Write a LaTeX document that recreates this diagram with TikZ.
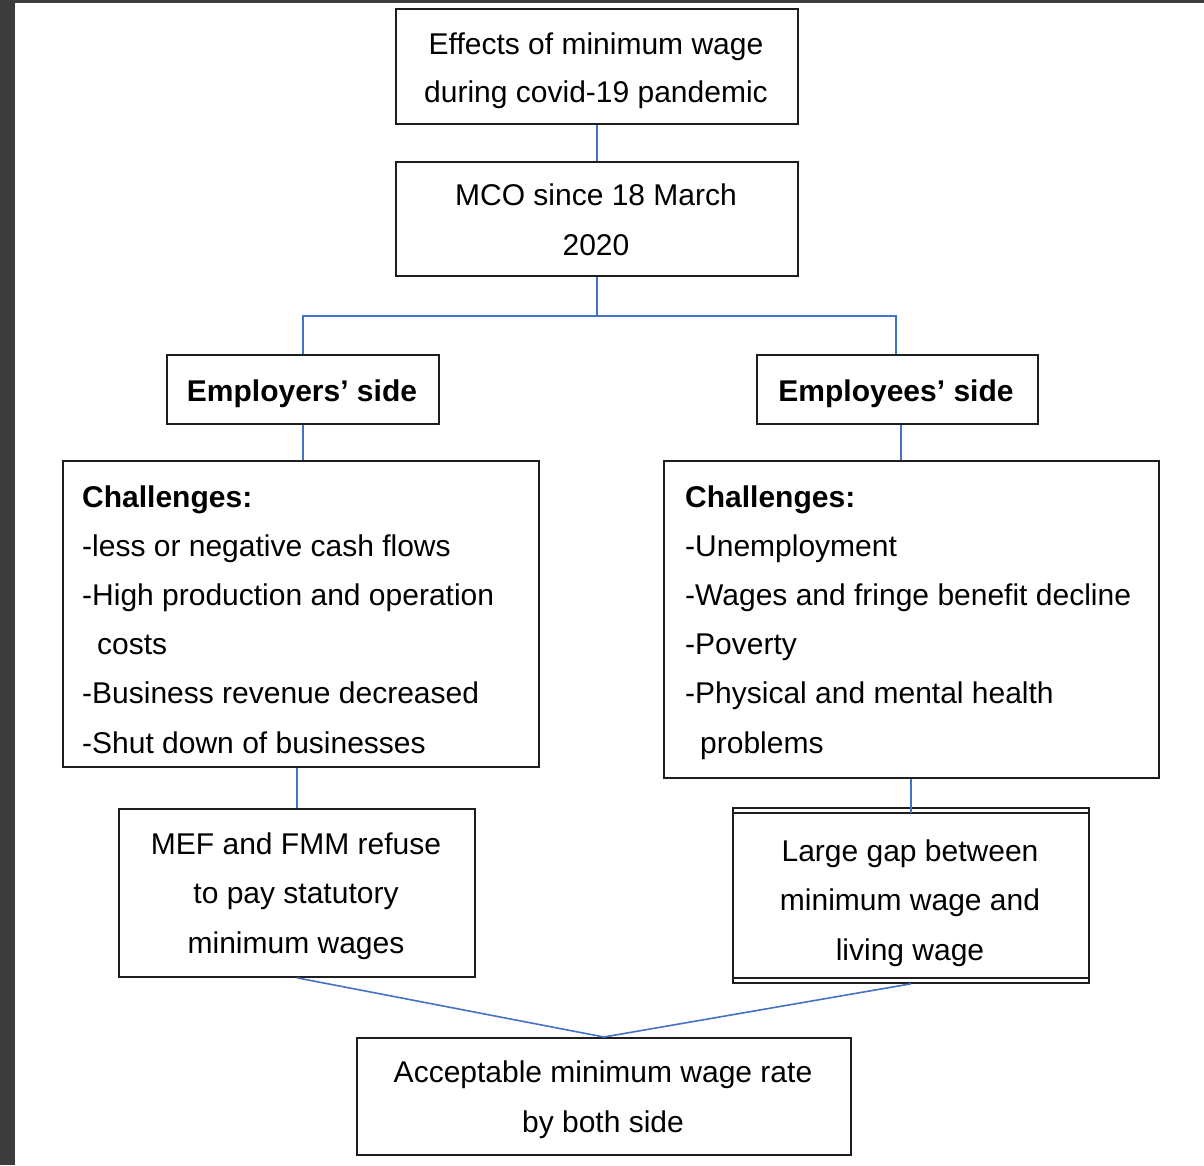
\documentclass[tikz,border=0pt]{standalone}
\usepackage{fontspec}
\setmainfont{Liberation Sans}
\definecolor{frame}{HTML}{3C3C3C}
\definecolor{conn}{HTML}{4472C4}
\definecolor{boxline}{HTML}{1E1E1E}
\newcommand\mycenterlines[2]{\vtop{\baselineskip=#1\halign{\hfil##\hfil\cr#2\crcr}}}
\newcommand\myleftlines[2]{\vtop{\baselineskip=#1\halign{##\hfil\cr#2\crcr}}}
\begin{document}
\begin{tikzpicture}[x=1pt,y=-1pt,
  box/.style={draw=boxline, line width=1.8pt, anchor=north west, inner sep=0pt},
  txt/.style={inner sep=0pt, font=\fontsize{30pt}{49pt}\selectfont},
  bold/.style={txt, font=\fontsize{30pt}{49pt}\selectfont\bfseries},
  link/.style={draw=conn, line width=1.6pt}]
\useasboundingbox (0,0) rectangle (1204,1165);
\fill[frame] (0,0) rectangle (1204,1165);
\fill[white] (15,3) rectangle (1204,1165);

% boxes
\node[box, minimum width=402pt, minimum height=115pt] (top) at (395,8) {};
\node[box, minimum width=402pt, minimum height=114pt] (mco) at (395,161) {};
\node[box, minimum width=272pt, minimum height=69pt] (emp) at (166,354) {};
\node[box, minimum width=281pt, minimum height=69pt] (emps) at (756,354) {};
\node[box, minimum width=476pt, minimum height=306pt] (chalA) at (62,460) {};
\node[box, minimum width=495pt, minimum height=317pt] (chalB) at (663,460) {};
\node[box, minimum width=356pt, minimum height=168pt] (mef) at (118,808) {};
\node[box, minimum width=356pt, minimum height=175pt] (gap) at (732,807) {};
\node[box, minimum width=494pt, minimum height=117pt] (acc) at (356,1037) {};
\draw[boxline, line width=1.6pt] ([yshift=-6pt]gap.north west) -- ([yshift=-6pt]gap.north east);
\draw[boxline, line width=1.6pt] ([yshift=6pt]gap.south west) -- ([yshift=6pt]gap.south east);

% texts
\node[txt, anchor=base] (topT) at (596,54) {\mycenterlines{48pt}{Effects of minimum wage\cr during covid-19 pandemic}};
\node[txt, anchor=base] (mcoT) at (596,205) {\mycenterlines{50pt}{MCO since 18 March\cr 2020}};
\node[bold, anchor=base] (empT) at (302,401) {Employers’ side};
\node[bold, anchor=base] (empsT) at (896,401) {Employees’ side};
\node[txt, anchor=base west] (chalAT) at (82,507) {\myleftlines{49.2pt}{\bfseries Challenges:\cr -less or negative cash flows\cr -High production and operation\cr \hspace{15pt}costs\cr -Business revenue decreased\cr -Shut down of businesses}};
\node[txt, anchor=base west] (chalBT) at (685,507) {\myleftlines{49.2pt}{\bfseries Challenges:\cr -Unemployment\cr -Wages and fringe benefit decline\cr -Poverty\cr -Physical and mental health\cr \hspace{15pt}problems}};
\node[txt, anchor=base] (mefT) at (296,854) {\mycenterlines{49.5pt}{MEF and FMM refuse\cr to pay statutory\cr minimum wages}};
\node[txt, anchor=base] (gapT) at (910,861) {\mycenterlines{49.5pt}{Large gap between\cr minimum wage and\cr living wage}};
\node[txt, anchor=base] (accT) at (603,1082) {\mycenterlines{50pt}{Acceptable minimum wage rate\cr by both side}};

% connectors
\draw[link] (top.south) -- (mco.north);
\draw[link] (mco.south) -- ++(0,39) coordinate (split);
\draw[link] (emp.north) |- (split) -| ([xshift=-1.5pt]emps.north);
\draw[link] (emp.south) -- (emp.south |- chalA.north);
\draw[link] ([xshift=3.5pt]emps.south) -- ([xshift=3.5pt]emps.south |- chalB.north);
\draw[link] (mef.north) -- (mef.north |- chalA.south);
\draw[link] (gap.north |- chalB.south) -- ([yshift=-6pt]gap.north);
\draw[link] (mef.south) -- (acc.north);
\draw[link] (gap.south) -- (acc.north);
\end{tikzpicture}
\end{document}
